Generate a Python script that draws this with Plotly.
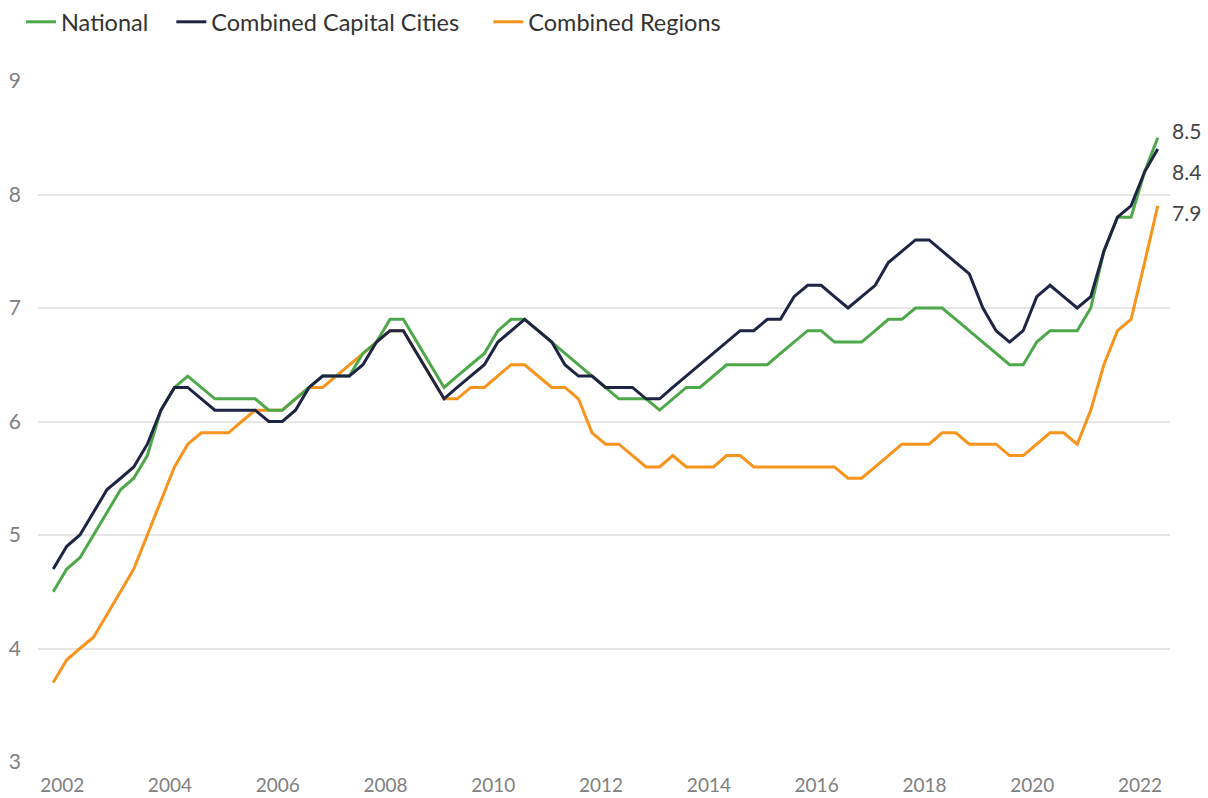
import pandas as pd
import plotly.graph_objects as go

# Quarterly observations, Nov 2001 .. May 2022
dates = pd.date_range(start="2001-11-01", periods=83, freq="3MS")

national = [4.5, 4.7, 4.8, 5.0, 5.2, 5.4, 5.5, 5.7, 6.1, 6.3,
            6.4, 6.3, 6.2, 6.2, 6.2, 6.2, 6.1, 6.1, 6.2, 6.3,
            6.4, 6.4, 6.4, 6.6, 6.7, 6.9, 6.9, 6.7, 6.5, 6.3,
            6.4, 6.5, 6.6, 6.8, 6.9, 6.9, 6.8, 6.7, 6.6, 6.5,
            6.4, 6.3, 6.2, 6.2, 6.2, 6.1, 6.2, 6.3, 6.3, 6.4,
            6.5, 6.5, 6.5, 6.5, 6.6, 6.7, 6.8, 6.8, 6.7, 6.7,
            6.7, 6.8, 6.9, 6.9, 7.0, 7.0, 7.0, 6.9, 6.8, 6.7,
            6.6, 6.5, 6.5, 6.7, 6.8, 6.8, 6.8, 7.0, 7.5, 7.8,
            7.8, 8.2, 8.5]

capitals = [4.7, 4.9, 5.0, 5.2, 5.4, 5.5, 5.6, 5.8, 6.1, 6.3,
            6.3, 6.2, 6.1, 6.1, 6.1, 6.1, 6.0, 6.0, 6.1, 6.3,
            6.4, 6.4, 6.4, 6.5, 6.7, 6.8, 6.8, 6.6, 6.4, 6.2,
            6.3, 6.4, 6.5, 6.7, 6.8, 6.9, 6.8, 6.7, 6.5, 6.4,
            6.4, 6.3, 6.3, 6.3, 6.2, 6.2, 6.3, 6.4, 6.5, 6.6,
            6.7, 6.8, 6.8, 6.9, 6.9, 7.1, 7.2, 7.2, 7.1, 7.0,
            7.1, 7.2, 7.4, 7.5, 7.6, 7.6, 7.5, 7.4, 7.3, 7.0,
            6.8, 6.7, 6.8, 7.1, 7.2, 7.1, 7.0, 7.1, 7.5, 7.8,
            7.9, 8.2, 8.4]

regions = [3.7, 3.9, 4.0, 4.1, 4.3, 4.5, 4.7, 5.0, 5.3, 5.6,
           5.8, 5.9, 5.9, 5.9, 6.0, 6.1, 6.1, 6.1, 6.2, 6.3,
           6.3, 6.4, 6.5, 6.6, 6.7, 6.8, 6.8, 6.6, 6.4, 6.2,
           6.2, 6.3, 6.3, 6.4, 6.5, 6.5, 6.4, 6.3, 6.3, 6.2,
           5.9, 5.8, 5.8, 5.7, 5.6, 5.6, 5.7, 5.6, 5.6, 5.6,
           5.7, 5.7, 5.6, 5.6, 5.6, 5.6, 5.6, 5.6, 5.6, 5.5,
           5.5, 5.6, 5.7, 5.8, 5.8, 5.8, 5.9, 5.9, 5.8, 5.8,
           5.8, 5.7, 5.7, 5.8, 5.9, 5.9, 5.8, 6.1, 6.5, 6.8,
           6.9, 7.4, 7.9]

series_names = ["National", "Combined Capital Cities", "Combined Regions"]
tick_years = [str(y) for y in range(2002, 2023, 2)]
y_ticks = [3, 4, 5, 6, 7, 8, 9]

colors = {"National": "#4ea84a", "Combined Capital Cities": "#1e2444",
          "Combined Regions": "#f7941d"}
rank = {"National": 1, "Combined Capital Cities": 2, "Combined Regions": 3}
pad = {"National": "\u00a0" * 3, "Combined Capital Cities": "\u00a0" * 4,
       "Combined Regions": ""}

FONT = "Lato"

fig = go.Figure()
# draw order: regions bottom, then national, capitals on top
for name, vals in [("Combined Regions", regions), ("National", national),
                   ("Combined Capital Cities", capitals)]:
    fig.add_trace(go.Scatter(
        x=dates, y=vals, mode="lines", name=name + pad[name],
        line=dict(color=colors[name], width=3),
        legendrank=rank[name],
        hovertemplate=name + ": %{y}<extra></extra>",
    ))

# end labels
label_shift = {"National": 7, "Combined Capital Cities": -22, "Combined Regions": -7}
for name, vals in [("National", national), ("Combined Capital Cities", capitals),
                   ("Combined Regions", regions)]:
    fig.add_annotation(
        x=dates[-1], y=vals[-1], text=f"{vals[-1]:.1f}", showarrow=False,
        xanchor="left", yanchor="middle", xshift=12, yshift=label_shift[name],
        font=dict(family=FONT, size=21, color="#444444"),
    )

fig.update_layout(
    width=1208, height=798,
    margin=dict(l=38, r=38, t=81, b=36, autoexpand=False),
    paper_bgcolor="white", plot_bgcolor="white",
    font=dict(family=FONT, size=18, color="#808080"),
    showlegend=True,
    legend=dict(orientation="h", xref="container", yref="container",
                x=0.0174, xanchor="left", y=0.9724, yanchor="middle",
                font=dict(family=FONT, size=23.5, color="#333333"),
                traceorder="normal", itemwidth=30,
                bgcolor="rgba(0,0,0,0)"),
    xaxis=dict(
        type="date", automargin=False,
        range=["2001-07-21", "2022-07-23"],
        tickvals=[f"{y}-01-01" for y in tick_years],
        ticktext=tick_years,
        showgrid=False, zeroline=False, showline=False,
        ticks="", ticklabelstandoff=10,
        tickfont=dict(family=FONT, size=19, color="#808080"),
    ),
    yaxis=dict(
        range=[3, 9], automargin=False,
        tickvals=y_ticks,
        showgrid=True, gridcolor="#e6e6e6", gridwidth=1.5,
        zeroline=False, showline=False, ticks="",
        ticklabelstandoff=16,
        tickfont=dict(family=FONT, size=21, color="#808080"),
    ),
)

fig.write_html(
    "out.html",
    config={"displayModeBar": False},
    post_script="document.body.style.margin='0';document.body.style.overflow='hidden';",
)
